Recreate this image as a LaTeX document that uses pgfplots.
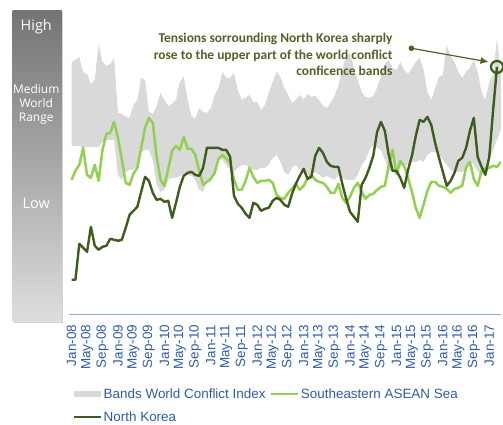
\documentclass[border=0pt]{standalone}
\usepackage{fontspec}
\setmainfont{Liberation Sans}
\newfontfamily\calibri{Carlito}
\newfontfamily\segoe{Open Sans}
\usepackage{pgfplots}
\pgfplotsset{compat=1.18}
\usepackage{pgfplotstable}
\usepgfplotslibrary{fillbetween}
\usetikzlibrary{shadows,arrows.meta}

\definecolor{bandgray}{RGB}{217,217,217}
\definecolor{lightgreen}{RGB}{146,208,80}
\definecolor{darkgreen}{RGB}{62,92,30}
\definecolor{notegreen}{RGB}{79,98,40}
\definecolor{labelblue}{RGB}{46,92,168}
\definecolor{axisblue}{RGB}{143,170,220}

% m = months since Jan-08; lo/hi = world conflict bands
\pgfplotstableread{
m lo hi asean nk
0 174 258 140 40
1 174 260 149 40
2 174 263 155 76
3 172 248 172 72
4 173 246 145 68
5 173 236 142 93
6 173 240 155 74
7 173 276 139 70
8 178 258 170 73
9 180 254 186 74
10 180 256 187 81
11 180 262 198 80
12 145 207 182 79
13 140 206 160 80
14 148 203 137 92
15 150 202 135 105
16 150 215 146 109
17 155 220 152 113
18 168 242 172 128
19 170 240 192 143
20 170 208 202 139
21 160 206 197 127
22 135 214 163 120
23 128 227 140 121
24 130 220 134 118
25 140 214 151 119
26 142 216 169 102
27 142 220 174 117
28 144 238 170 133
29 145 243 183 144
30 145 220 171 147
31 144 204 171 148
32 140 201 165 145
33 130 212 149 144
34 128 208 135 152
35 138 207 138 172
36 138 212 141 172
37 150 225 147 172
38 162 232 161 172
39 160 248 165 170
40 155 242 161 170
41 150 242 157 163
42 148 247 140 124
43 152 230 130 116
44 155 220 130 112
45 155 222 139 106
46 152 225 152 102
47 150 218 143 117
48 150 218 137 115
49 152 210 139 109
50 152 215 139 111
51 155 227 140 112
52 162 238 137 119
53 165 248 125 122
54 158 243 122 120
55 148 232 121 115
56 145 225 127 113
57 152 217 131 126
58 155 220 136 136
59 150 225 130 144
60 148 220 134 151
61 145 226 141 141
62 145 223 145 143
63 148 224 140 164
64 145 220 138 172
65 142 214 137 167
66 144 212 133 158
67 142 217 127 154
68 140 224 127 153
69 145 235 136 153
70 142 250 122 136
71 140 264 117 121
72 140 267 123 108
73 140 252 132 103
74 145 240 137 98
75 155 228 128 135
76 160 223 121 142
77 170 222 125 152
78 175 224 126 164
79 172 232 130 188
80 170 244 133 198
81 160 256 134 189
82 150 260 154 165
83 148 252 170 149
84 150 250 146 149
85 152 258 159 142
86 155 250 154 132
87 155 246 142 150
88 158 252 128 164
89 158 258 112 184
90 160 262 102 200
91 158 250 115 198
92 165 228 129 203
93 168 220 138 195
94 168 232 138 177
95 165 243 134 162
96 160 245 133 148
97 155 275 131 134
98 150 264 127 139
99 148 258 131 147
100 148 248 132 159
101 148 242 134 162
102 150 248 152 172
103 160 252 158 189
104 155 260 141 202
105 148 248 134 163
106 145 228 149 153
107 148 220 152 145
108 160 238 152 163
109 170 245 154 210
110 180 282 153 253
111 190 245 158 nan
}\conflict

\begin{document}
\begin{tikzpicture}
\path (-69.3bp,-107bp) rectangle (433.7bp,315bp);
% range bar on the left
\shade[top color={rgb,255:red,116;green,116;blue,116}, bottom color={rgb,255:red,222;green,222;blue,222},
  drop shadow={opacity=0.35, shadow xshift=1.5bp, shadow yshift=-1.5bp}]
  (-56.6bp,-7bp) rectangle (-7.3bp,304bp);
\node[text=white, font=\segoe\fontsize{14.5}{16}\selectfont] at (-33bp,288.3bp) {High};
\node[text=white, align=center, font=\segoe\fontsize{12}{13.6}\selectfont] at (-33bp,210.5bp) {Medium\\World\\Range};
\node[text=white, font=\segoe\fontsize{14.5}{16}\selectfont] at (-33bp,111bp) {Low};

\begin{axis}[
  at={(0,0)}, anchor=south west,
  scale only axis, width=432bp, height=305bp,
  xmin=-0.6, xmax=111, ymin=5, ymax=310,
  axis x line*=bottom, axis y line=none,
  x axis line style={axisblue, line width=1bp},
  ytick=\empty,
  xtick={0,4,...,108},
  xticklabels={Jan-08,May-08,Sep-08,Jan-09,May-09,Sep-09,Jan-10,May-10,Sep-10,Jan-11,May-11,Sep-11,Jan-12,May-12,Sep-12,Jan-13,May-13,Sep-13,Jan-14,May-14,Sep-14,Jan-15,May-15,Sep-15,Jan-16,May-16,Sep-16,Jan-17},
  major tick length=0pt,
  xticklabel style={rotate=90, anchor=east, inner sep=0pt, font=\fontsize{13.5}{16}\selectfont, text=labelblue},
  xticklabel shift=10bp,
  legend columns=2,
  legend cell align=left,
  legend style={at={(0.0079,-0.236)}, anchor=north west, draw=none, fill=none, inner sep=0pt,
    font=\fontsize{13.5}{16}\selectfont, text=labelblue, row sep=9bp,
    nodes={inner sep=1.5bp},
    /tikz/every even column/.append style={column sep=3bp}},
]
\addplot[draw=none, name path=hi, forget plot] table[x=m, y=hi] {\conflict};
\addplot[draw=none, name path=lo, forget plot] table[x=m, y=lo] {\conflict};
\addplot[bandgray, draw=none,
  legend image code/.code={\fill[bandgray] (0bp,-3.4bp) rectangle (27bp,3.4bp);}]
  fill between[of=hi and lo];
\addlegendentry{Bands World Conflict Index}
\addplot[lightgreen, line width=2.5bp, mark=none, line join=round,
  legend image code/.code={\draw[lightgreen, line width=2.4bp] (0bp,0bp) -- (27bp,0bp);}]
  table[x=m, y=asean] {\conflict};
\addlegendentry{Southeastern ASEAN Sea}
\addplot[darkgreen, line width=2.4bp, mark=none, line join=round,
  legend image code/.code={\draw[darkgreen, line width=2.4bp] (0bp,0bp) -- (27bp,0bp);}]
  table[x=m, y=nk] {\conflict};
\addlegendentry{North Korea}
\addplot[only marks, mark=o, mark size=6bp, darkgreen, line width=2.2bp, forget plot]
  coordinates {(110,253)};
\node[anchor=north east, align=right, inner sep=0pt, text=notegreen,
  font=\calibri\bfseries\fontsize{13.5}{16.5}\selectfont] at (axis cs:83,287)
  {Tensions sorrounding North Korea sharply\\rose to the upper part of the world conflict\\conficence bands};
\fill[notegreen] (axis cs:87.86,271.7) circle (2.8bp);
\draw[notegreen, line width=1.2bp, -{Latex[length=8bp,width=7bp]}] (axis cs:87.86,271.7) -- (axis cs:107.8,258);
\end{axis}
\end{tikzpicture}
\end{document}
